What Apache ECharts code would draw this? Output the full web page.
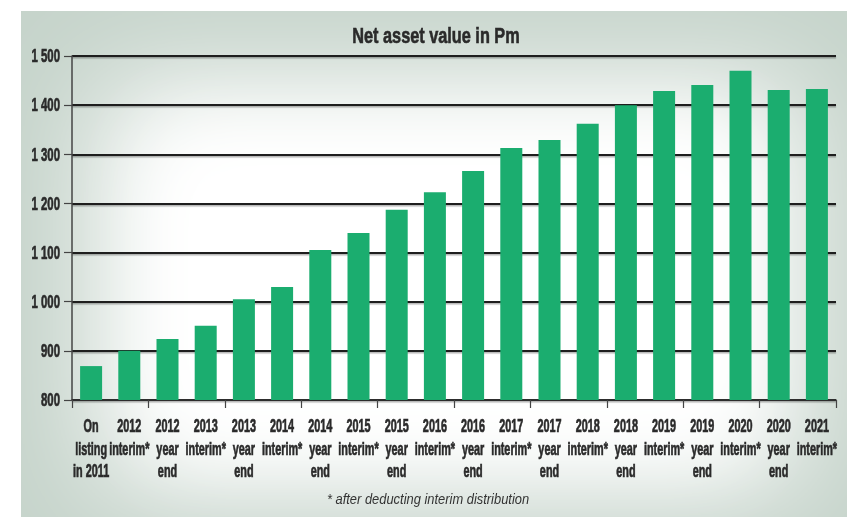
<!DOCTYPE html>
<html><head><meta charset="utf-8">
<script src="https://cdn.jsdelivr.net/npm/echarts@6/dist/echarts.min.js"></script>
<style>html,body{margin:0;padding:0;background:#fff}#c{width:847px;height:517px}</style>
</head><body><div id="c"></div>
<script>
const titleText = "Net asset value in Pm";
const footnoteText = "* after deducting interim distribution";
const categories = [
  "On\nlisting\nin 2011", "2012\ninterim*", "2012\nyear\nend", "2013\ninterim*", "2013\nyear\nend",
  "2014\ninterim*", "2014\nyear\nend", "2015\ninterim*", "2015\nyear\nend", "2016\ninterim*",
  "2016\nyear\nend", "2017\ninterim*", "2017\nyear\nend", "2018\ninterim*", "2018\nyear\nend",
  "2019\ninterim*", "2019\nyear\nend", "2020\ninterim*", "2020\nyear\nend", "2021\ninterim*"
];
const values = [869, 900, 924, 951, 1005, 1030, 1105, 1140, 1187, 1223, 1266, 1313, 1329, 1362, 1400, 1429, 1441, 1470, 1431, 1433];
const yMin = 800, yMax = 1500, yStep = 100;
const yTickValues = [800, 900, 1000, 1100, 1200, 1300, 1400, 1500];

const FONT = "'Liberation Sans', Arial, sans-serif";
const TXT = '#2a2a2a';
const fmtY = v => String(v).replace(/\B(?=(\d{3})+$)/, ' ');

const chart = echarts.init(document.getElementById('c'), null, {renderer: 'canvas'});
const baseOption = {
  animation: false,
  grid: {left: 72, right: 11, top: 56, bottom: 117, containLabel: false},
  xAxis: {
    type: 'category', data: categories,
    axisLine: {lineStyle: {color: '#333', width: 1.5}},
    axisTick: {show: true, length: 8, lineStyle: {color: '#444', width: 1.2}},
    axisLabel: {show: false}
  },
  yAxis: {
    type: 'value', min: yMin, max: yMax, interval: yStep,
    axisLine: {show: true, lineStyle: {color: '#444', width: 1.5}},
    axisTick: {show: true, length: 8, inside: false, lineStyle: {color: '#444', width: 1.2}},
    axisLabel: {show: false},
    splitLine: {show: true, lineStyle: {color: '#1e1e1e', width: 1.8,
      shadowColor: 'rgba(0,0,0,0.3)', shadowOffsetY: 1.5, shadowBlur: 1}}
  },
  series: [{
    type: 'bar', data: values, barWidth: 22,
    itemStyle: {color: '#1bad6f'}
  }]
};
chart.setOption(baseOption);

function scaledText(x, y, text, o) {
  const st = {
    text: text, x: 0, y: 0, fill: o.fill || TXT,
    fontFamily: FONT, fontSize: o.fontSize, fontWeight: o.fontWeight || 'bold',
    fontStyle: o.fontStyle || 'normal',
    align: o.align || 'center', verticalAlign: o.verticalAlign || 'middle',
    lineHeight: o.lineHeight
  };
  if (o.strokeW) { st.stroke = o.fill || TXT; st.lineWidth = o.strokeW; }
  return {type: 'text', silent: true, z: 5, x: x, y: y, scaleX: o.scaleX, scaleY: 1, style: st};
}

const elements = [
  {type: 'rect', z: -20, silent: true, shape: {x: 21, y: 11, width: 826, height: 506},
   style: {fill: '#c6d4cb'}},
  {type: 'rect', z: -19, silent: true, shape: {x: 100 - 3000, y: 85, width: 700, height: 400},
   style: {fill: '#ffffff', shadowBlur: 110, shadowColor: '#ffffff', shadowOffsetX: 3000}},
  {type: 'rect', z: -18, silent: true, shape: {x: 160 - 3000, y: 130, width: 580, height: 320},
   style: {fill: '#ffffff', shadowBlur: 80, shadowColor: '#ffffff', shadowOffsetX: 3000}}
];
categories.forEach((c, i) => {
  const px = chart.convertToPixel({xAxisIndex: 0}, i);
  elements.push(scaledText(px, 416, c, {fontSize: 19, scaleX: 0.57, lineHeight: 22.5, verticalAlign: 'top', strokeW: 0.7}));
});
yTickValues.forEach(v => {
  const py = chart.convertToPixel({yAxisIndex: 0}, v);
  elements.push(scaledText(60, py + 1, fmtY(v), {fontSize: 19, scaleX: 0.6, align: 'right', strokeW: 0.7}));
});
elements.push(scaledText(436, 37, titleText, {fontSize: 22, scaleX: 0.74, strokeW: 0.6}));
elements.push(scaledText(428, 500, footnoteText, {fontSize: 15, scaleX: 0.86, fontWeight: 'normal', fontStyle: 'italic', fill: '#333'}));

chart.setOption({graphic: {elements: elements}});
</script></body></html>
